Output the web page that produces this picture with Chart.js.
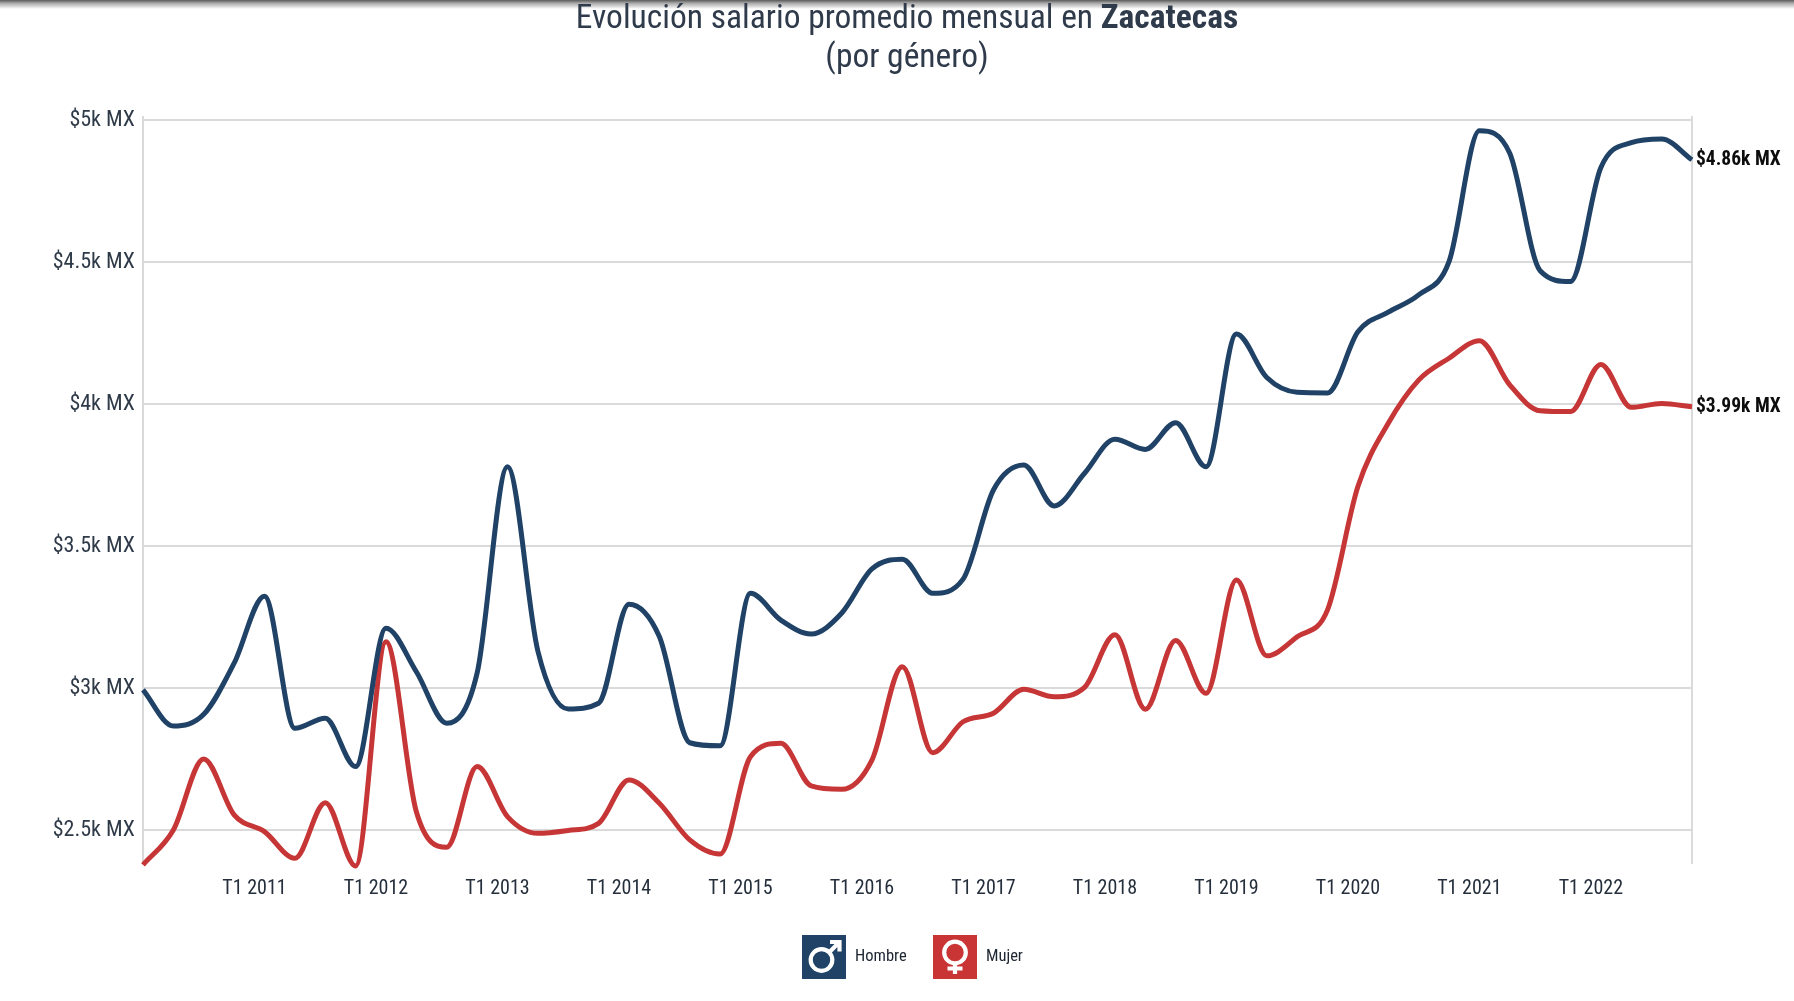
<!DOCTYPE html>
<html lang="es">
<head>
<meta charset="UTF-8">
<title>Evolución salario promedio mensual en Zacatecas</title>
<script src="https://cdn.jsdelivr.net/npm/chart.js"></script>
<style>
    html, body { margin: 0; padding: 0; background: #fff; }
    body { width: 1794px; height: 1001px; position: relative; overflow: hidden; font-family: "Roboto Condensed", Roboto, sans-serif; }
    #shade { position: absolute; left: 0; top: 0; width: 100%; height: 9px; background: linear-gradient(#5a5a5a, #a8a8a8 35%, #fff); }
    #chart { position: absolute; left: 0; top: 0; }
    h1 { position: absolute; left: 0; top: -3px; width: 1814px; margin: 0; text-align: center; font-weight: 400; font-size: 33.5px; line-height: 39px; color: #2f3b4b; }
    .legend-item { position: absolute; top: 935px; height: 44px; display: flex; align-items: center; font-size: 16.5px; color: #1c2530; }
    .legend-item svg { width: 44px; height: 44px; margin-right: 9px; display: block; }
    .legend-item span { position: relative; top: -1.5px; }
</style>
</head>
<body>
<div id="shade"></div>
<canvas id="chart" width="1794" height="1001"></canvas>
<h1>Evolución salario promedio mensual en <b>Zacatecas</b><br>(por género)</h1>
<div class="legend-item" style="left:802px">
    <svg viewBox="0 0 44 44"><rect width="44" height="44" fill="#1f4266"/>
        <g fill="none" stroke="#fff" stroke-width="4.2"><circle cx="19.5" cy="25" r="10.8"/><path d="M27.5 17L37 7.5M28 7H37.5V16.5"/></g></svg>
    <span>Hombre</span>
</div>
<div class="legend-item" style="left:933px">
    <svg viewBox="0 0 44 44"><rect width="44" height="44" fill="#c93535"/>
        <g fill="none" stroke="#fff" stroke-width="4.2"><circle cx="22" cy="17.5" r="10.8"/><path d="M22 28V39M14.5 33.5H29.5"/></g></svg>
    <span>Mujer</span>
</div>
<script>
const FONT = '"Roboto Condensed", Roboto, sans-serif';

const years = [2010, 2011, 2012, 2013, 2014, 2015, 2016, 2017, 2018, 2019, 2020, 2021, 2022];
const quarters = years.flatMap(y => [1, 2, 3, 4].map(q => `T${q} ${y}`));

const hombre = [
    2993, 2866, 2907, 3087, 3323, 2858, 2893, 2723, 3210, 3057, 2876, 3052, 3779,
    3130, 2926, 2946, 3295, 3181, 2807, 2796, 3333, 3239, 3190, 3263, 3419, 3453,
    3333, 3383, 3697, 3785, 3641, 3756, 3876, 3840, 3934, 3779, 4246, 4093, 4041,
    4039, 4254, 4323, 4384, 4501, 4962, 4883, 4469, 4431, 4833, 4920, 4933, 4860
];
const mujer = [
    2377, 2500, 2750, 2553, 2494, 2400, 2596, 2373, 3163, 2564, 2439, 2723, 2547,
    2488, 2498, 2523, 2676, 2594, 2465, 2415, 2758, 2805, 2655, 2643, 2746, 3075,
    2772, 2881, 2911, 2995, 2969, 3002, 3187, 2925, 3167, 2981, 3380, 3113, 3180,
    3275, 3709, 3932, 4084, 4161, 4223, 4067, 3976, 3973, 4139, 3988, 4002, 3990
];
const yTicks = [2500, 3000, 3500, 4000, 4500, 5000];

const money = v => '$' + (v / 1000) + 'k MX';
const GRID = '#dadada';

// last value of each line, written to the right of the plot
const endLabels = {
    id: 'endLabels',
    afterDatasetsDraw(chart) {
        const { ctx } = chart;
        ctx.save();
        ctx.font = `bold 19.5px ${FONT}`;
        ctx.fillStyle = '#0d0d0d';
        ctx.textBaseline = 'middle';
        chart.data.datasets.forEach((ds, i) => {
            const pt = chart.getDatasetMeta(i).data[ds.data.length - 1];
            ctx.fillText(money(ds.data[ds.data.length - 1]), pt.x + 4, pt.y);
        });
        ctx.restore();
    }
};

new Chart(document.getElementById('chart'), {
    type: 'line',
    data: {
        labels: quarters,
        datasets: [
            { label: 'Hombre', data: hombre, borderColor: '#1f4266' },
            { label: 'Mujer', data: mujer, borderColor: '#c73636' }
        ]
    },
    plugins: [endLabels],
    options: {
        responsive: false,
        animation: false,
        layout: { padding: { top: 116, right: 102 } },
        datasets: {
            line: { borderWidth: 5, pointRadius: 0, cubicInterpolationMode: 'monotone', clip: false }
        },
        plugins: { legend: { display: false }, title: { display: false }, tooltip: { enabled: false } },
        scales: {
            x: {
                type: 'category',
                offset: false,
                afterFit(scale) { scale.height = 137; },
                border: { display: false },
                grid: {
                    lineWidth: 2,
                    drawTicks: false,
                    color: ctx => (ctx.index === 0 || ctx.index === quarters.length - 1) ? GRID : 'transparent'
                },
                ticks: {
                    autoSkip: false,
                    maxRotation: 0,
                    padding: 13,
                    labelOffset: -10,
                    color: '#252f3c',
                    font: { family: FONT, size: 20 },
                    callback(value) {
                        const label = this.getLabelForValue(value);
                        return label.startsWith('T1') && label !== 'T1 2010' ? label : '';
                    }
                }
            },
            y: {
                min: 2380,
                max: 5014,
                afterFit(scale) { scale.width = 143; },
                afterBuildTicks(scale) { scale.ticks = yTicks.map(value => ({ value })); },
                border: { display: false },
                grid: { lineWidth: 2, color: GRID, drawTicks: false },
                ticks: {
                    padding: 8,
                    labelOffset: 1,
                    color: '#2f3a48',
                    font: { family: FONT, size: 22 },
                    callback: v => money(v)
                }
            }
        }
    }
});
</script>
</body>
</html>
